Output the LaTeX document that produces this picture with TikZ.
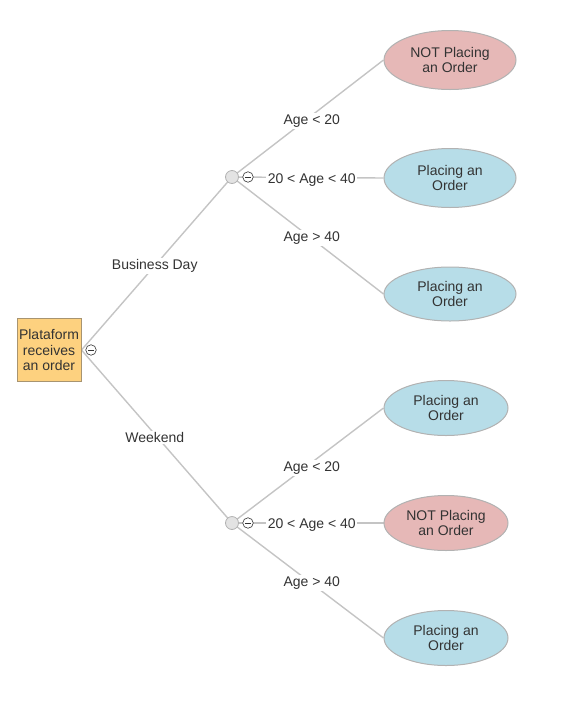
\documentclass[tikz,border=0pt]{standalone}
\usepackage{fontspec}
\setmainfont{Liberation Sans}
\usepackage{tikz}
\usetikzlibrary{shapes.geometric}
\usetikzlibrary{backgrounds}

\definecolor{rootfill}{HTML}{FDD17F}
\definecolor{rootline}{HTML}{A89470}
\definecolor{nofill}{HTML}{E6B8B7}
\definecolor{yesfill}{HTML}{B7DDE8}
\definecolor{wire}{HTML}{C4C4C4}
\definecolor{ink}{HTML}{333333}

\begin{document}
\begin{tikzpicture}[x=1pt,y=-1pt,
    every node/.style={font=\fontsize{14}{15.5}\selectfont,text=ink,align=center},
    rootbox/.style={rectangle,draw=rootline,fill=rootfill,line width=1pt,minimum width=64pt,minimum height=63pt,inner sep=1pt},
    chance/.style={circle,draw=gray!60,fill=gray!22,line width=0.8pt,minimum size=13pt,inner sep=0pt},
    collapse/.style={circle,draw=ink,fill=white,line width=0.6pt,minimum size=10.5pt,inner sep=0pt,
      path picture={\draw[ink,line width=0.6pt] ([xshift=-2.8pt]path picture bounding box.center) -- ([xshift=2.8pt]path picture bounding box.center);}},
    noleaf/.style={ellipse,draw=gray!60,fill=nofill,line width=1pt,inner sep=0pt},
    yesleaf/.style={ellipse,draw=gray!60,fill=yesfill,line width=1pt,inner sep=0pt},
    branch/.style={draw=wire,line width=1.4pt},
    lbl/.style={fill=white,inner sep=1.5pt,yshift=-2.5pt},
    daylbl/.style={lbl,xshift=-2pt},
    agelbl/.style={lbl,xshift=4pt}]
  \useasboundingbox (0,0) rectangle (564,702);

  % root and chance nodes
  \node[rootbox] (root) at (49,350) {Plataform\\receives\\an order};
  \node[chance] (bday) at (232,177) {};
  \node[chance] (wend) at (232,523) {};

  % leaves, business day
  \node[noleaf,minimum width=132pt,minimum height=59pt] (b1) at (450,60) {NOT Placing\\an Order};
  \node[yesleaf,minimum width=132pt,minimum height=59pt] (b2) at (450,178) {Placing an\\Order};
  \node[yesleaf,minimum width=132pt,minimum height=54pt] (b3) at (450,294) {Placing an\\Order};

  % leaves, weekend
  \node[yesleaf,minimum width=124pt,minimum height=55pt] (w1) at (446,408) {Placing an\\Order};
  \node[noleaf,minimum width=124pt,minimum height=55pt] (w2) at (446,523) {NOT Placing\\an Order};
  \node[yesleaf,minimum width=124pt,minimum height=55pt] (w3) at (446,638) {Placing an\\Order};

  \begin{scope}[on background layer]
  \path[branch]
    (root.east) edge node[daylbl] {Business Day} (bday.center)
    (root.east) edge node[daylbl,yshift=1.5pt] {Weekend} (wend.center)
    (bday.center) edge node[agelbl] {Age < 20} (b1.west)
    (bday.center) edge node[agelbl] {20 < Age < 40} (b2.west)
    (bday.center) edge node[agelbl] {Age > 40} (b3.west)
    (wend.center) edge node[agelbl] {Age < 20} (w1.west)
    (wend.center) edge node[agelbl] {20 < Age < 40} (w2.west)
    (wend.center) edge node[agelbl] {Age > 40} (w3.west);
  \end{scope}

  % collapse markers
  \node[collapse] (croot) at (91,350) {};
  \node[collapse] (cbday) at (248,177) {};
  \node[collapse] (cwend) at (248,523) {};
\end{tikzpicture}
\end{document}
